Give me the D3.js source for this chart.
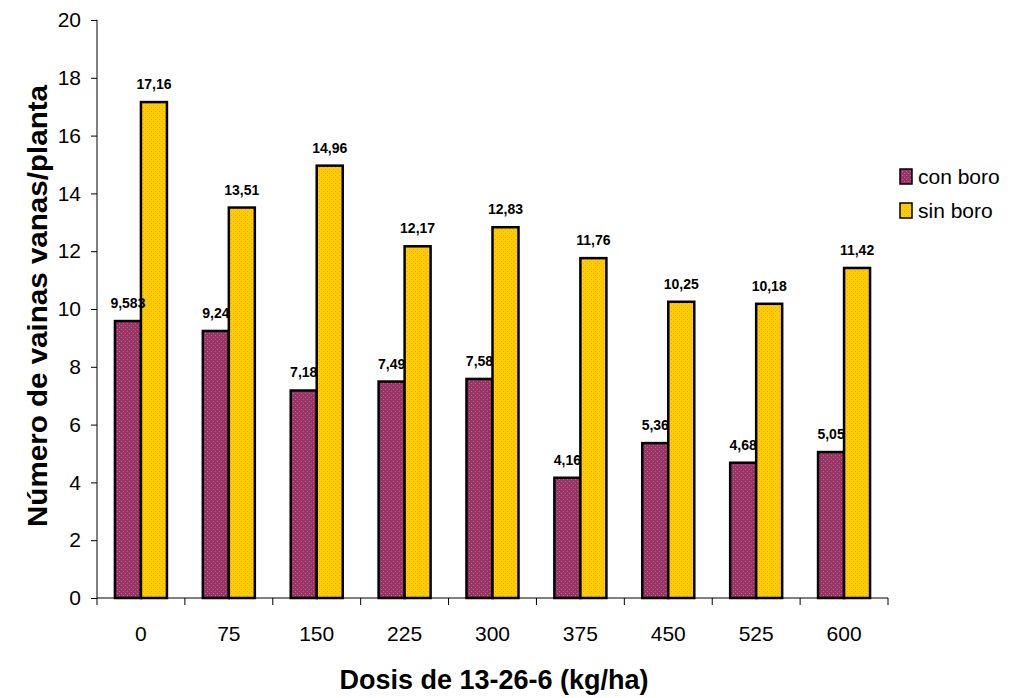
<!DOCTYPE html>
<html>
<head>
<meta charset="utf-8">
<script src="https://cdn.jsdelivr.net/npm/d3@7"></script>
<style>
  html, body { margin: 0; padding: 0; background: #fff; }
  svg { display: block; font-family: "Liberation Sans", Arial, sans-serif; }
</style>
</head>
<body>
<svg id="chart" width="1010" height="698"></svg>
<script>
// Dosis de fertilizante 13-26-6 (kg/ha)
const categories = ["0", "75", "150", "225", "300", "375", "450", "525", "600"];
const seriesNames = ["con boro", "sin boro"];
const conBoro = [9.583, 9.24, 7.18, 7.49, 7.58, 4.16, 5.36, 4.68, 5.05];
const sinBoro = [17.16, 13.51, 14.96, 12.17, 12.83, 11.76, 10.25, 10.18, 11.42];
const conBoroLabels = ["9,583", "9,24", "7,18", "7,49", "7,58", "4,16", "5,36", "4,68", "5,05"];
const sinBoroLabels = ["17,16", "13,51", "14,96", "12,17", "12,83", "11,76", "10,25", "10,18", "11,42"];
const yTicks = [0, 2, 4, 6, 8, 10, 12, 14, 16, 18, 20];

const svg = d3.select("#chart");
const margin = { left: 97, right: 122, top: 20, bottom: 100 };
const W = 1010, H = 698;

const x = d3.scaleBand().domain(categories).range([margin.left, W - margin.right]).paddingInner(0).paddingOuter(0);
const y = d3.scaleLinear().domain([0, 20]).range([H - margin.bottom, margin.top]);
const xs = d3.scaleBand().domain(seriesNames).range([0, x.bandwidth()]).paddingInner(0).paddingOuter(0.69);

// dotted fills
const defs = svg.append("defs");
function dotPattern(id, bg, dot) {
  const p = defs.append("pattern").attr("id", id).attr("patternUnits", "userSpaceOnUse")
    .attr("width", 4).attr("height", 4);
  p.append("rect").attr("width", 4).attr("height", 4).attr("fill", bg);
  p.append("rect").attr("x", 1).attr("y", 1).attr("width", 1).attr("height", 1).attr("fill", dot);
  p.append("rect").attr("x", 3).attr("y", 3).attr("width", 1).attr("height", 1).attr("fill", dot);
}
dotPattern("patCon", "#993366", "#b9708f");
dotPattern("patSin", "#ffcc00", "#f2a81c");
const fills = { "con boro": "url(#patCon)", "sin boro": "url(#patSin)" };

const series = [
  { name: "con boro", values: conBoro, labels: conBoroLabels },
  { name: "sin boro", values: sinBoro, labels: sinBoroLabels }
];

// bars
series.forEach(s => {
  svg.append("g").selectAll("rect").data(categories).join("rect")
    .attr("x", (c) => x(c) + xs(s.name))
    .attr("y", (c, i) => y(s.values[i]))
    .attr("width", xs.bandwidth())
    .attr("height", (c, i) => y(0) - y(s.values[i]))
    .attr("fill", fills[s.name])
    .attr("stroke", "#000")
    .attr("stroke-width", 2.5);
});

// value labels
series.forEach(s => {
  svg.append("g").selectAll("text").data(categories).join("text")
    .attr("x", (c) => x(c) + xs(s.name) + xs.bandwidth() / 2)
    .attr("y", (c, i) => y(s.values[i]) - 13)
    .attr("text-anchor", "middle")
    .attr("font-size", 14)
    .attr("font-weight", "bold")
    .attr("fill", "#000")
    .text((c, i) => s.labels[i]);
});

// y axis
const yAxis = svg.append("g").attr("transform", `translate(${margin.left},0)`)
  .call(d3.axisLeft(y).tickValues(yTicks).tickSize(6).tickPadding(10).tickFormat(d3.format("d")));
yAxis.select(".domain").attr("stroke", "#000").attr("d", `M-0.5,${y(20)}H0V${y(0)}`);
yAxis.selectAll("text").attr("font-size", 21).attr("font-family", "'Liberation Sans', Arial, sans-serif").attr("fill", "#000");

// x axis with ticks at category boundaries
const xAxis = svg.append("g").attr("transform", `translate(0,${y(0)})`);
xAxis.append("line").attr("x1", margin.left).attr("x2", W - margin.right)
  .attr("y1", 0).attr("y2", 0).attr("stroke", "#000");
const bounds = categories.map(c => x(c)).concat([x(categories[categories.length - 1]) + x.bandwidth()]);
xAxis.selectAll("line.tick").data(bounds).join("line").attr("class", "tick")
  .attr("x1", d => d).attr("x2", d => d).attr("y1", 0).attr("y2", 7).attr("stroke", "#000");
xAxis.selectAll("text").data(categories).join("text")
  .attr("x", c => x(c) + x.bandwidth() / 2)
  .attr("y", 43)
  .attr("text-anchor", "middle")
  .attr("font-size", 21)
  .attr("fill", "#000")
  .text(c => c);

// axis titles
svg.append("text").attr("x", 494).attr("y", 689).attr("text-anchor", "middle")
  .attr("font-size", 27).attr("font-weight", "bold").text("Dosis de 13-26-6 (kg/ha)");
svg.append("text").attr("transform", "translate(47,306) rotate(-90)").attr("text-anchor", "middle")
  .attr("font-size", 27).attr("font-weight", "bold")
  .attr("textLength", 442).attr("lengthAdjust", "spacingAndGlyphs")
  .text("Número de vainas vanas/planta");

// legend
const legend = svg.append("g").attr("transform", "translate(899,168)");
seriesNames.forEach((n, i) => {
  const g = legend.append("g").attr("transform", `translate(0,${i * 34})`);
  g.append("rect").attr("x", 1).attr("y", 1).attr("width", 12).attr("height", 15)
    .attr("fill", fills[n]).attr("stroke", "#000").attr("stroke-width", 1.5);
  g.append("text").attr("x", 19).attr("y", 16).attr("font-size", 21).attr("fill", "#000").text(n);
});
</script>
</body>
</html>
